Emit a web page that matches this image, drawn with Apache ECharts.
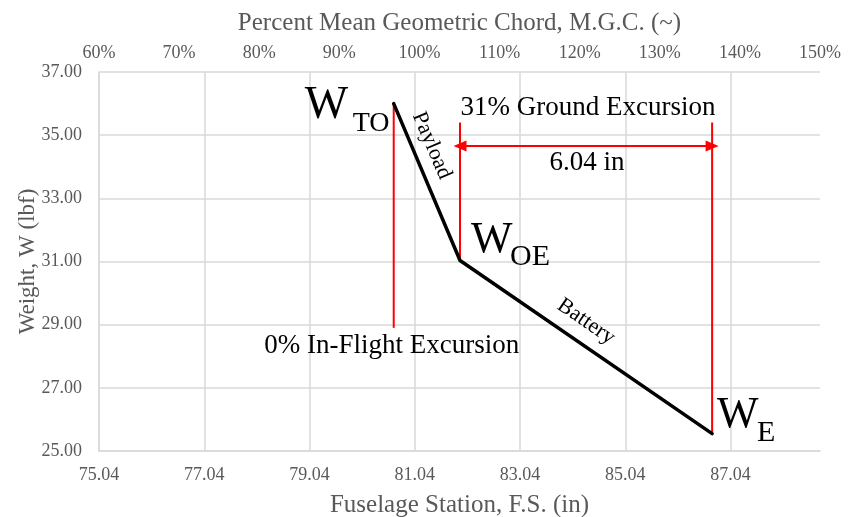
<!DOCTYPE html>
<html>
<head>
<meta charset="utf-8">
<script src="https://cdn.jsdelivr.net/npm/echarts@6/dist/echarts.min.js"></script>
<style>
    html, body { margin: 0; padding: 0; background: #fff; }
    #main { width: 849px; height: 517px; }
</style>
</head>
<body>
<div id="main"></div>
<script>
// 下轴 F.S. 起点与终点 (轴按偏移量绘制, 标签再加回起点)
var fsOrigin = 75.04;
var fsEnd = 88.74;
// 上轴 M.G.C. 百分比范围
var mgcRange = [60, 150];
// 纵轴范围
var weightRange = [25, 37];

// 重心包线: W_TO, W_OE, W_E
var cgStations = [80.64, 81.90, 86.69];
var cgWeights = [36.00, 31.03, 25.55];
var cgSubs = ['TO', 'OE', 'E'];
var segLabels = ['Payload', 'Battery'];

// 红色标注线
var inFlightFs = [80.64, 80.64];
var inFlightW = [36.00, 28.90];
var groundFwdFs = [81.90, 81.90];
var groundFwdW = [35.40, 31.03];
var groundAftFs = [86.69, 86.69];
var groundAftW = [35.40, 25.55];
var spanFs = [81.90, 86.69];
var spanW = [34.66, 34.66];

var texts = {
    ground: '31% Ground Excursion',
    span: '6.04 in',
    inFlight: '0% In-Flight Excursion'
};

var serif = 'Liberation Serif';
var gray = '#595959';
var gridColor = '#d9d9d9';

function toXY(fsArr, wArr) {
    return fsArr.map(function(fs, i){
        return [fs - fsOrigin, wArr[i]];
    });
}

function redSeries(fsArr, wArr) {
    return {
        type: 'line',
        data: toXY(fsArr, wArr),
        symbol: 'none',
        silent: true,
        lineStyle: { color: '#ff0000', width: 2 },
        z: 3
    };
}

var myChart = echarts.init(document.getElementById('main'));

var option = {
    animation: false,
    grid: { left: 99, right: 29, top: 72, bottom: 66, outerBoundsMode: 'none' },
    xAxis: [{
        type: 'value',
        position: 'bottom',
        min: 0,
        max: fsEnd - fsOrigin,
        interval: 2,
        name: 'Fuselage Station, F.S. (in)',
        nameLocation: 'middle',
        nameGap: 42,
        nameTextStyle: { fontFamily: serif, fontSize: 25, color: gray },
        axisLine: { show: true, lineStyle: { color: gridColor, width: 1.5 } },
        axisTick: { show: false },
        axisLabel: {
            margin: 15,
            fontFamily: serif,
            fontSize: 18,
            color: gray,
            formatter: function(v){
                if (Math.abs(v / 2 - Math.round(v / 2)) > 1e-6) return '';
                return (v + fsOrigin).toFixed(2);
            }
        },
        splitLine: { show: true, showMaxLine: false, lineStyle: { color: gridColor, width: 1.5 } }
    }, {
        type: 'value',
        position: 'top',
        min: mgcRange[0],
        max: mgcRange[1],
        interval: 10,
        name: 'Percent Mean Geometric Chord, M.G.C. (~)',
        nameLocation: 'middle',
        nameGap: 36,
        nameTextStyle: { fontFamily: serif, fontSize: 25, color: gray },
        axisLine: { show: false },
        axisTick: { show: false },
        axisLabel: {
            margin: 10,
            fontFamily: serif,
            fontSize: 18,
            color: gray,
            formatter: '{value}%'
        },
        splitLine: { show: false }
    }],
    yAxis: {
        type: 'value',
        min: weightRange[0],
        max: weightRange[1],
        interval: 2,
        name: 'Weight, W (lbf)',
        nameLocation: 'middle',
        nameGap: 60,
        nameMoveOverlap: false,
        nameTextStyle: { fontFamily: serif, fontSize: 23, color: gray },
        axisLine: { show: true, lineStyle: { color: gridColor, width: 1.5 } },
        axisTick: { show: false },
        axisLabel: {
            margin: 17,
            fontFamily: serif,
            fontSize: 18,
            color: gray,
            formatter: function(v){ return v.toFixed(2); }
        },
        splitLine: { show: true, lineStyle: { color: gridColor, width: 1.5 } }
    },
    series: [
        redSeries(inFlightFs, inFlightW),
        redSeries(groundFwdFs, groundFwdW),
        redSeries(groundAftFs, groundAftW),
        {
            type: 'line',
            data: [],
            silent: true,
            markLine: {
                silent: true,
                symbol: ['triangle', 'triangle'],
                symbolSize: [11, 13],
                label: { show: false },
                lineStyle: { color: '#ff0000', width: 2, type: 'solid' },
                data: [[
                    { coord: [spanFs[0] - fsOrigin, spanW[0]] },
                    { coord: [spanFs[1] - fsOrigin, spanW[1]] }
                ]]
            }
        },
        {
            type: 'line',
            data: toXY(cgStations, cgWeights),
            symbol: 'none',
            silent: true,
            lineStyle: { color: '#000', width: 3.5, cap: 'round', join: 'round' },
            z: 4
        }
    ]
};

myChart.setOption(option);

// 文字标注, 位置由数据点换算成像素后再偏移
function px(fs, w) {
    return myChart.convertToPixel({ xAxisIndex: 0, yAxisIndex: 0 }, [fs - fsOrigin, w]);
}

var pts = cgStations.map(function(fs, i){ return px(fs, cgWeights[i]); });

function txt(x, y, str, size, align, rot) {
    return {
        type: 'text',
        x: x,
        y: y,
        rotation: rot || 0,
        silent: true,
        z: 10,
        style: {
            text: str,
            fill: '#000',
            font: size + 'px "' + serif + '"',
            align: align || 'left',
            verticalAlign: 'middle'
        }
    };
}

// W 与下标相对各点的偏移
var wOffsets = [[-89, 2], [11, -20], [5, -18]];
var subOffsets = [[-41, 20], [50, -3], [45, -1]];
var wSizes = [46, 44, 44];
var subSizes = [28, 30, 30];

var graphics = [];
pts.forEach(function(p, i){
    graphics.push(txt(p[0] + wOffsets[i][0], p[1] + wOffsets[i][1], 'W', wSizes[i]));
    graphics.push(txt(p[0] + subOffsets[i][0], p[1] + subOffsets[i][1], cgSubs[i], subSizes[i]));
});

// 沿线文字
var segOffsets = [[38, 42], [126, 61]];
segLabels.forEach(function(label, i){
    var a = pts[i], b = pts[i + 1];
    var ang = Math.atan2(b[1] - a[1], b[0] - a[0]);
    graphics.push(txt(a[0] + segOffsets[i][0], a[1] + segOffsets[i][1], label, 22, 'center', -ang));
});

var fwdTop = px(groundFwdFs[0], groundFwdW[0]);
var aftTop = px(groundAftFs[0], groundAftW[0]);
var spanPt = px(spanFs[0], spanW[0]);
var inFlightBottom = px(inFlightFs[1], inFlightW[1]);

graphics.push(txt((fwdTop[0] + aftTop[0]) / 2 + 2, fwdTop[1] - 15, texts.ground, 27, 'center'));
graphics.push(txt((fwdTop[0] + aftTop[0]) / 2 + 1, spanPt[1] + 17, texts.span, 27, 'center'));
graphics.push(txt(inFlightBottom[0] - 2, inFlightBottom[1] + 18, texts.inFlight, 27, 'center'));

myChart.setOption({ graphic: graphics });
</script>
</body>
</html>
